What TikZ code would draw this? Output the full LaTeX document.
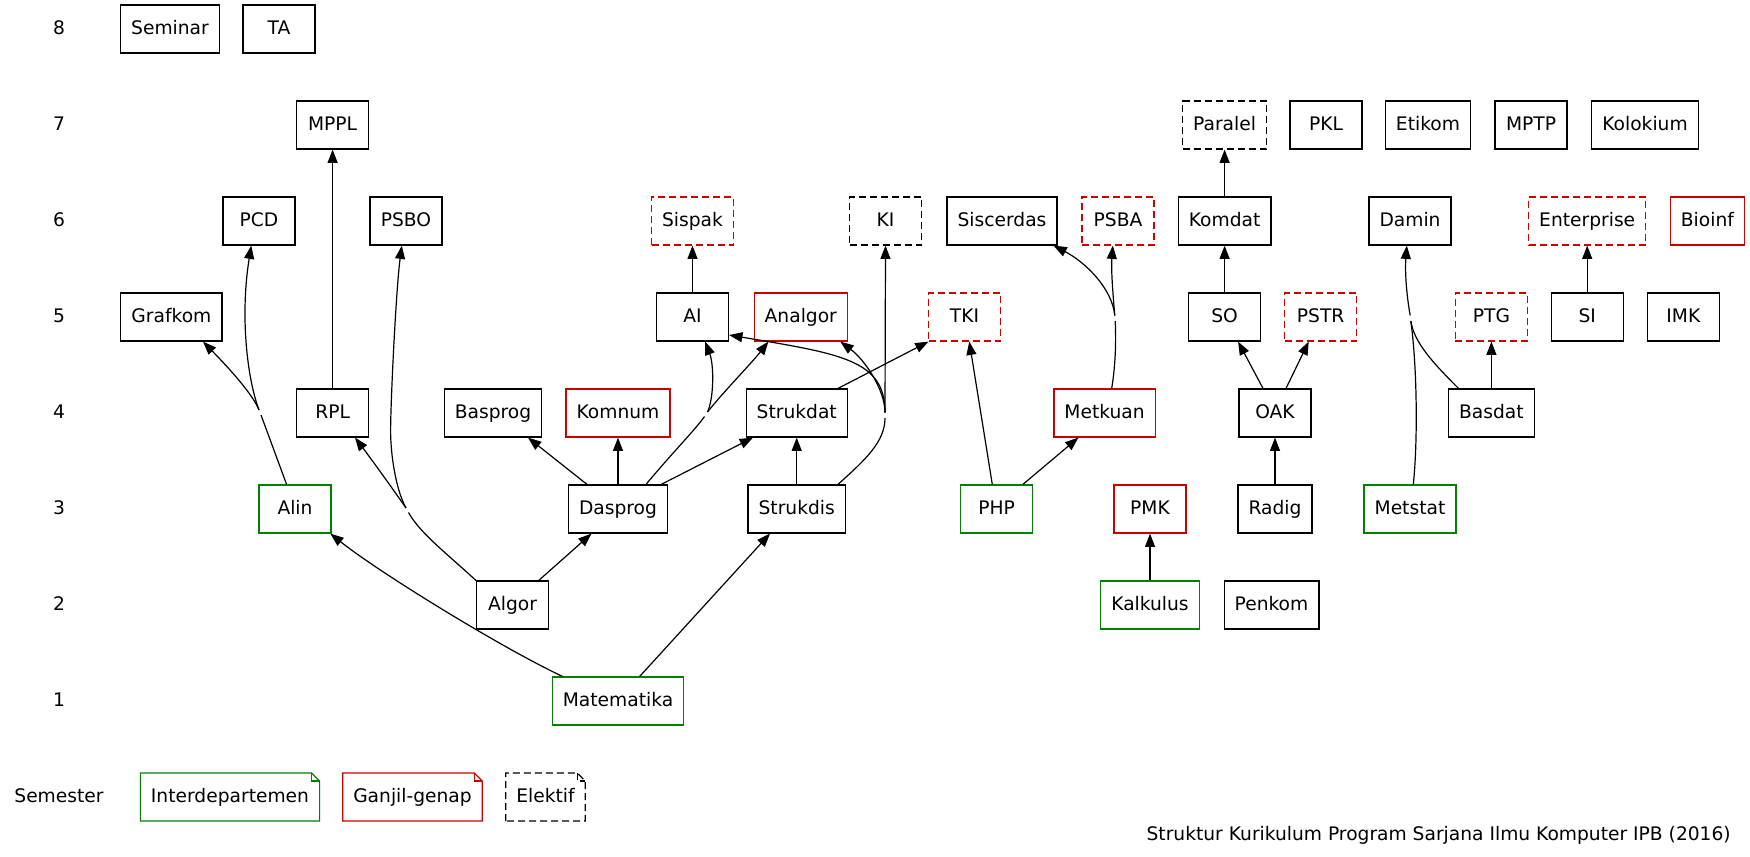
\documentclass[tikz,border=0pt]{standalone}
\usepackage{fontspec}
\setmainfont{DejaVu Sans}
\usetikzlibrary{arrows.meta,calc}
\definecolor{gvgreen}{RGB}{0,128,0}
\definecolor{gvred}{RGB}{205,0,0}
\newcommand{\gvnote}[2]{%
  \draw[#1] (#2.south west) -- (#2.north west) -- ($(#2.north east)+(-8,0)$) -- ($(#2.north east)+(0,8)$) -- (#2.south east) -- cycle;
  \draw[#1] ($(#2.north east)+(-8,0)$) -- ($(#2.north east)+(-8,8)$) -- ($(#2.north east)+(0,8)$);}
\begin{document}
\begin{tikzpicture}[x=0.75pt,y=-0.75pt,
  font=\fontsize{14pt}{17pt}\selectfont,
  bx/.style={draw,line width=0.9pt,minimum width=54pt,minimum height=36pt,inner xsep=7.92pt,inner ysep=0pt,text height=10.6pt,text depth=3pt},
  bxg/.style={bx,draw=gvgreen},
  bxr/.style={bx,draw=gvred},
  dashbox/.style={dash pattern=on 5.25pt off 3pt},
  bxdb/.style={bx,dashbox},
  bxdr/.style={bx,draw=gvred,dashbox},
  notebox/.style={minimum width=54pt,minimum height=36pt,inner xsep=7.92pt,inner ysep=0pt,outer sep=0pt,text height=10.6pt,text depth=3pt},
  lbl/.style={inner sep=0pt,text height=10.6pt,text depth=3pt},
  ln/.style={line width=0.9pt},
  arr/.style={-{Triangle[length=10pt,width=7.5pt]},line width=0.9pt}]
\useasboundingbox (0,0) rectangle (1750,857);

% semester labels
\node[lbl] (s8) at (59,29) {8};
\node[lbl] (s7) at (59,125) {7};
\node[lbl] (s6) at (59,221) {6};
\node[lbl] (s5) at (59,317) {5};
\node[lbl] (s4) at (59,413) {4};
\node[lbl] (s3) at (59,509) {3};
\node[lbl] (s2) at (59,605) {2};
\node[lbl] (s1) at (59,701) {1};
\node[lbl] (sem) at (59,797) {Semester};

% row 8
\node[bx] (Seminar) at (170,29) {Seminar};
\node[bx] (TA) at (279,29) {TA};
% row 7
\node[bx] (MPPL) at (332.6,125) {MPPL};
\node[bxdb] (Paralel) at (1224.6,125) {Paralel};
\node[bx] (PKL) at (1326,125) {PKL};
\node[bx] (Etikom) at (1428,125) {Etikom};
\node[bx] (MPTP) at (1531,125) {MPTP};
\node[bx] (Kolokium) at (1645,125) {Kolokium};
% row 6
\node[bx] (PCD) at (259,221) {PCD};
\node[bx] (PSBO) at (406,221) {PSBO};
\node[bxdr] (Sispak) at (692.5,221) {Sispak};
\node[bxdb] (KI) at (885.5,221) {KI};
\node[bx] (Siscerdas) at (1002,221) {Siscerdas};
\node[bxdr] (PSBA) at (1118,221) {PSBA};
\node[bx] (Komdat) at (1224.6,221) {Komdat};
\node[bx] (Damin) at (1410,221) {Damin};
\node[bxdr] (Enterprise) at (1587.2,221) {Enterprise};
\node[bxr] (Bioinf) at (1707.4,221) {Bioinf};
% row 5
\node[bx] (Grafkom) at (171.4,317) {Grafkom};
\node[bx] (AI) at (692.5,317) {AI};
\node[bxr] (Analgor) at (800.8,317) {Analgor};
\node[bxdr] (TKI) at (964.5,317) {TKI};
\node[bx] (SO) at (1224.6,317) {SO};
\node[bxdr] (PSTR) at (1320.7,317) {PSTR};
\node[bxdr] (PTG) at (1491.4,317) {PTG};
\node[bx] (SI) at (1587.2,317) {SI};
\node[bx] (IMK) at (1683.4,317) {IMK};
% row 4
\node[bx] (RPL) at (332.6,413) {RPL};
\node[bx] (Basprog) at (493,413) {Basprog};
\node[bxr] (Komnum) at (618,413) {Komnum};
\node[bx] (Strukdat) at (796.7,413) {Strukdat};
\node[bxr] (Metkuan) at (1104.6,413) {Metkuan};
\node[bx] (OAK) at (1275,413) {OAK};
\node[bx] (Basdat) at (1491.4,413) {Basdat};
% row 3
\node[bxg] (Alin) at (295,509) {Alin};
\node[bx] (Dasprog) at (618,509) {Dasprog};
\node[bx] (Strukdis) at (796.7,509) {Strukdis};
\node[bxg] (PHP) at (996.7,509) {PHP};
\node[bxr] (PMK) at (1150,509) {PMK};
\node[bx] (Radig) at (1275,509) {Radig};
\node[bxg] (Metstat) at (1410,509) {Metstat};
% row 2
\node[bx] (Algor) at (512.5,605) {Algor};
\node[bxg] (Kalkulus) at (1150,605) {Kalkulus};
\node[bx] (Penkom) at (1271.5,605) {Penkom};
% row 1
\node[bxg] (Matematika) at (618,701) {Matematika};

% legend
\node[notebox] (Linter) at (230,797) {Interdepartemen};
\node[notebox] (Lgg) at (412.5,797) {Ganjil-genap};
\node[notebox] (Lelek) at (545.5,797) {Elektif};
\gvnote{gvgreen,line width=0.9pt}{Linter}
\gvnote{gvred,line width=0.9pt}{Lgg}
\gvnote{black,line width=0.9pt,dashbox}{Lelek}

% caption
\node[lbl,anchor=east] (cap) at (1731,835) {Struktur Kurikulum Program Sarjana Ilmu Komputer IPB (2016)};

% junction coordinates (lower end / upper start of merged edges)
\coordinate (jAlo) at (261,415);   \coordinate (jAhi) at (259,410);
\coordinate (jGlo) at (408.5,512.5); \coordinate (jGhi) at (406,508);
\coordinate (jG4) at (390.6,430);
\coordinate (jDlo) at (704.5,416.5); \coordinate (jDhi) at (707.5,412);
\coordinate (jSlo) at (885,418);   \coordinate (jShi) at (885,412.5);
\coordinate (jMlo) at (1115.2,321); \coordinate (jMhi) at (1114.8,315.5);
\coordinate (jTlo) at (1410.8,321); \coordinate (jThi) at (1410.2,315.5);

% edges
\draw[arr] (RPL.north) -- (MPPL.south);
% Alin -> Grafkom, PCD
\draw[ln] ($(Alin.north)+(-8.4,0)$) -- (jAlo);
\draw[arr] (jAhi) .. controls (252,392) and (221,360) .. ($(Grafkom.south)+(31.6,0)$);
\draw[arr] (jAhi) .. controls (247,378) and (240,315) .. ($(PCD.south)+(-7.7,0)$);
% Algor -> RPL, PSBO
\draw[ln] (Algor.north west) .. controls (445,552) and (420,533) .. (jGlo);
\draw[arr] (jGhi) .. controls (395,492) and (372,460) .. ($(RPL.south)+(22.4,0)$);
\draw[arr] (jGhi) .. controls (396,490) and (390.5,455) .. (jG4) .. controls (390.7,400) and (396,290) .. ($(PSBO.south)+(-4.2,0)$);
\draw[arr] ($(Algor.north)+(26.3,0)$) -- ($(Dasprog.south)+(-26.5,0)$);
% Matematika
\draw[arr] ($(Matematika.north)+(-55.5,0)$) .. controls (502,648) and (380,573) .. ($(Alin.south)+(35.3,0)$);
\draw[arr] ($(Matematika.north)+(21.7,0)$) -- ($(Strukdis.south)+(-26.7,0)$);
% Dasprog
\draw[arr] ($(Dasprog.north)+(-31,0)$) -- ($(Basprog.south)+(35,0)$);
\draw[arr] (Dasprog.north) -- (Komnum.south);
\draw[arr] ($(Dasprog.north)+(43.2,0)$) -- ($(Strukdat.south)+(-43.7,0)$);
\draw[ln] ($(Dasprog.north)+(28,0)$) .. controls (673,452) and (695,430) .. (jDlo);
\draw[arr] (jDhi) .. controls (725,390) and (750,365) .. ($(Analgor.south)+(-32.4,0)$);
\draw[arr] (jDhi) .. controls (714,398) and (714,365) .. ($(AI.south)+(12.7,0)$);
% Strukdis
\draw[arr] (Strukdis.north) -- (Strukdat.south);
\draw[ln] ($(Strukdis.north)+(41.3,0)$) .. controls (865,460) and (885,442) .. (jSlo);
\draw[arr] (jShi) -- (KI.south);
\draw[arr] (jShi) .. controls (885,360) and (842,354) .. ($(AI.east)+(0,18)$);
\draw[arr] (jShi) .. controls (885,390) and (865,360) .. ($(Analgor.south)+(39.5,0)$);
\draw[arr] (AI.north) -- (Sispak.south);
\draw[arr] ($(Strukdat.north)+(41.3,0)$) -- ($(TKI.south)+(-36,0)$);
% PHP
\draw[arr] ($(PHP.north)+(-4.4,0)$) -- ($(TKI.south)+(4.8,0)$);
\draw[arr] ($(PHP.north)+(26.2,0)$) -- ($(Metkuan.south)+(-26.2,0)$);
% Metkuan -> PSBA, Siscerdas
\draw[ln] ($(Metkuan.north)+(7.1,0)$) .. controls (1116,362) and (1116,338) .. (jMlo);
\draw[arr] (jMhi) .. controls (1113,295) and (1111,270) .. ($(PSBA.south)+(-5.2,0)$);
\draw[arr] (jMhi) .. controls (1112,288) and (1085,262) .. ($(Siscerdas.south)+(51.5,0)$);
% right part
\draw[arr] (Kalkulus.north) -- (PMK.south);
\draw[arr] (Radig.north) -- (OAK.south);
\draw[arr] ($(OAK.north)+(-12,0)$) -- ($(SO.south)+(13.5,0)$);
\draw[arr] ($(OAK.north)+(11,0)$) -- ($(PSTR.south)+(-12,0)$);
\draw[arr] (SO.north) -- (Komdat.south);
\draw[arr] (Komdat.north) -- (Paralel.south);
% Metstat, Basdat -> Damin
\draw[ln] ($(Metstat.north)+(3.3,0)$) .. controls (1418,440) and (1417,365) .. (jTlo);
\draw[ln] ($(Basdat.north)+(-32.9,0)$) .. controls (1432,362) and (1414,342) .. (jTlo);
\draw[arr] (jThi) .. controls (1406,292) and (1405,270) .. ($(Damin.south)+(-3.2,0)$);
\draw[arr] (Basdat.north) -- (PTG.south);
\draw[arr] (SI.north) -- (Enterprise.south);
\end{tikzpicture}
\end{document}
